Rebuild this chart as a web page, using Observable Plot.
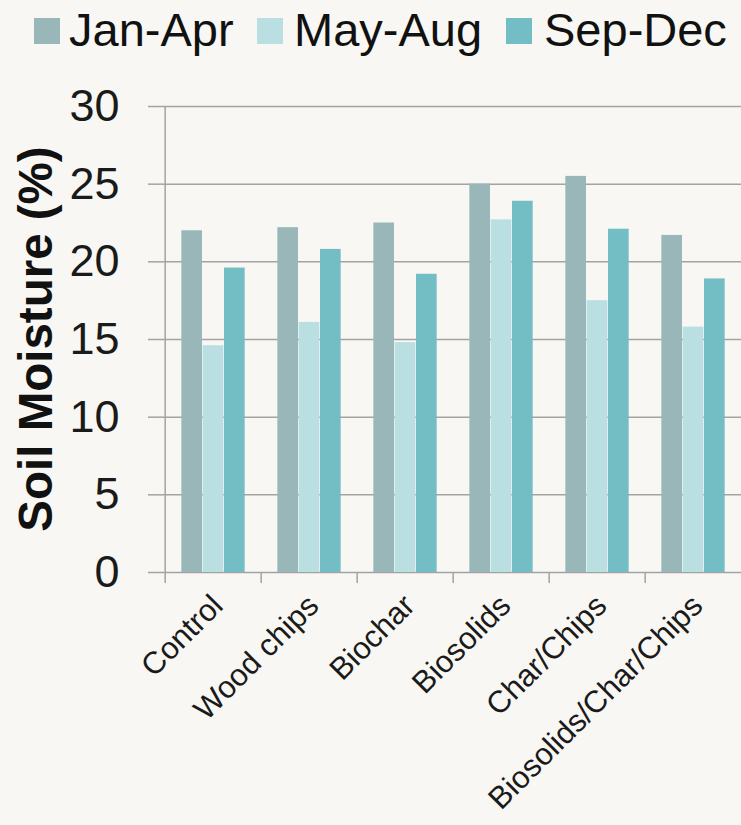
<!DOCTYPE html>
<html><head><meta charset="utf-8">
<script src="https://cdn.jsdelivr.net/npm/d3@7"></script>
<script src="https://cdn.jsdelivr.net/npm/@observablehq/plot@0.6"></script>
<style>
body{margin:0;background:#f8f7f3;font-family:"Liberation Sans",Arial,sans-serif;width:741px;height:825px;overflow:hidden}
#legend{position:relative;height:60px;font-size:47px;color:#111;white-space:nowrap}
.sw{position:absolute;top:18px;width:26px;height:26px}
.lt{position:absolute;top:0;line-height:60px}
#chart svg{display:block;background:transparent}
</style></head><body>
<div id="legend"></div><div id="chart"></div>
<script>
const categories = ["Control","Wood chips","Biochar","Biosolids","Char/Chips","Biosolids/Char/Chips"];
const seasons = ["Jan-Apr","May-Aug","Sep-Dec"];
const janApr = [22.0, 22.2, 22.5, 25.0, 25.5, 21.7];
const mayAug = [14.6, 16.1, 14.8, 22.7, 17.5, 15.8];
const sepDec = [19.6, 20.8, 19.2, 23.9, 22.1, 18.9];
const yTicks = [0, 5, 10, 15, 20, 25, 30];
const colors = ["#99b7b9", "#b9dfe3", "#72bec4"];
const yTitle = "Soil Moisture (%)";

const series = [janApr, mayAug, sepDec];
const rows = [];
seasons.forEach((s, si) => categories.forEach((c, ci) => rows.push({category: c, season: s, value: series[si][ci]})));

// legend (HTML, above the SVG)
const legend = document.getElementById("legend");
const swLeft = [34, 257, 506], txtLeft = [69, 294, 544];
seasons.forEach((s, i) => {
  const sw = document.createElement("span"); sw.className = "sw";
  sw.style.background = colors[i]; sw.style.left = swLeft[i] + "px";
  const t = document.createElement("span"); t.className = "lt";
  t.style.left = txtLeft[i] + "px"; t.textContent = s;
  legend.append(sw, t);
});

const x0 = 163, x1 = 743;
const step = (x1 - x0) / categories.length;
const barW = 21.33;
const gap = (step - seasons.length * barW) / 2;
const gridColor = "#a3a3a3";
const font = "'Liberation Sans', Arial, sans-serif";

const marks = [
  Plot.ruleY(yTicks, {stroke: gridColor, strokeWidth: 1.5}),
  ...seasons.map((s, i) => Plot.barY(rows.filter(d => d.season === s), {
    x: "category", y: "value", fill: colors[i],
    insetLeft: gap + i * barW, insetRight: step - gap - (i + 1) * barW
  })),
  Plot.ruleX(categories.slice(0, 1), {x: d => d, dx: -step / 2, y1: 0, y2: 30, stroke: gridColor, strokeWidth: 1.5}),
  Plot.axisY({ticks: yTicks, tickSize: 15, tickPadding: 29, fontSize: 45, stroke: gridColor, strokeWidth: 1.5, fill: "#1a1a1a", label: null}),
  Plot.axisX({ticks: categories, tickSize: 11, tickFormat: () => "", dx: -step / 2, stroke: gridColor, strokeWidth: 1.5, label: null}),
  Plot.axisX({ticks: categories, tickSize: 0, tickPadding: 28, tickRotate: -45, fontSize: 31, fill: "#1a1a1a", dx: 4, label: null})
];

const plot = Plot.plot({
  width: 741, height: 765,
  marginTop: 46, marginBottom: 253, marginLeft: 163, marginRight: 0,
  style: {fontFamily: font, background: "transparent", overflow: "visible"},
  x: {domain: categories, range: [x0, x1], padding: 0, axis: null},
  y: {domain: [0, 30], axis: null},
  marks
});
document.getElementById("chart").append(plot);

// y-axis title
const yMid = plot.scale("y").apply(15);
d3.select(plot).append("text")
  .attr("transform", `translate(52,${yMid}) rotate(-90)`)
  .attr("text-anchor", "middle")
  .attr("font-size", 47.5).attr("font-weight", "bold")
  .attr("font-family", font).attr("fill", "#111")
  .text(yTitle);
</script></body></html>
